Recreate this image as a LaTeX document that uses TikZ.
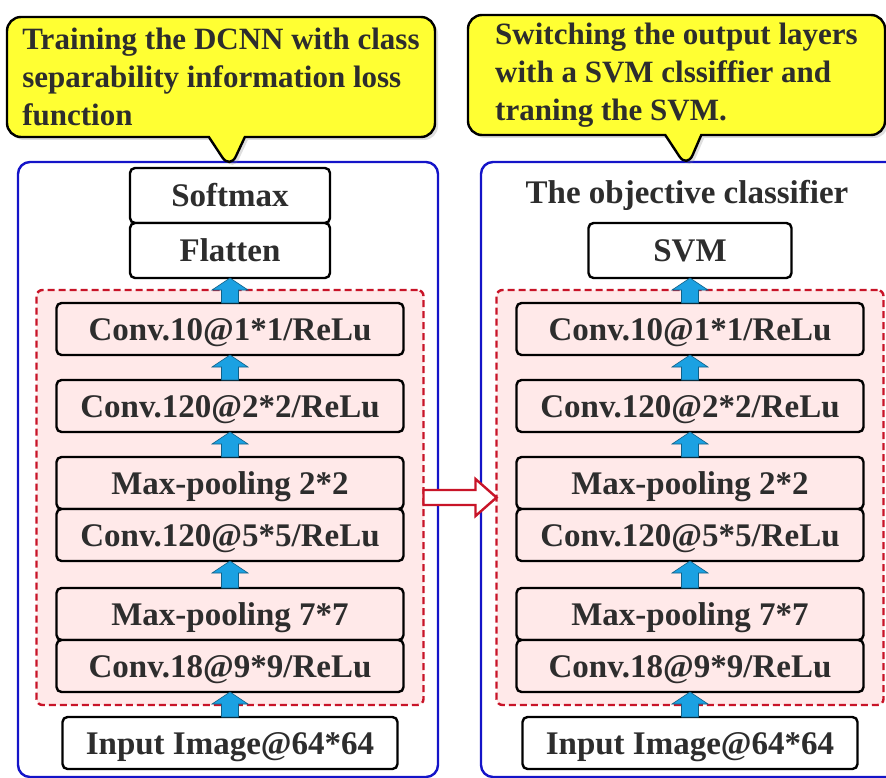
\documentclass[tikz,border=0pt]{standalone}
\usepackage{fontspec}
\setmainfont{Liberation Serif}
\usepackage{tikz}
\usetikzlibrary{positioning,calc,fit,shapes.callouts,shadows,backgrounds}
\definecolor{noteyellow}{RGB}{255, 255, 51}
\definecolor{layerpink}{RGB}{255, 233, 233}
\definecolor{regionred}{RGB}{200, 20, 40}
\definecolor{panelblue}{RGB}{20, 20, 200}
\definecolor{arrowblue}{RGB}{27, 161, 226}
\definecolor{textgray}{RGB}{45, 45, 45}
\newcommand{\layerfont}{\fontsize{33}{38}\selectfont\bfseries}
\newcommand{\notefont}{\fontsize{31}{38}\selectfont\bfseries}
\tikzset{
    box/.style={rectangle, draw=black, line width=2.4pt, rounded corners=5pt, inner sep=0pt, outer sep=0pt, minimum height=52pt, text height=22pt, text depth=0pt, font=\layerfont, text=textgray},
    plain box/.style={box, fill=white},
    layer/.style={box, fill=layerpink, minimum width=347pt},
    region/.style={rectangle, draw=regionred, line width=2.4pt, dash pattern=on 7pt off 4pt, fill=layerpink, rounded corners=6pt, inner xsep=20pt, inner ysep=13pt, outer sep=0pt},
    panel/.style={rectangle, draw=panelblue, line width=2.4pt, rounded corners=12pt, inner sep=0pt, outer sep=0pt},
    note/.style={rectangle callout, draw=black, line width=2.4pt, fill=noteyellow, rounded corners=14pt, callout pointer width=36pt, align=left, font=\notefont, text=textgray, inner xsep=14pt, outer sep=0pt, minimum height=120pt, drop shadow={shadow xshift=3pt, shadow yshift=-3pt, opacity=0.25}},
    up arrow/.style={fill=arrowblue, draw=arrowblue!60!black, line width=0.6pt},
    switch arrow/.style={draw=regionred, fill=white, line width=2.4pt}
}
\newcommand{\layerarrow}[2]{%
    \path[up arrow] let \p1=(#1.north), \p2=(#2.south) in
        (\x1-8.5pt,\y1) -- (\x1-8.5pt,\y2-12pt) -- (\x1-18pt,\y2-12pt) -- (\x1,\y2)
        -- (\x1+18pt,\y2-12pt) -- (\x1+8.5pt,\y2-12pt) -- (\x1+8.5pt,\y1) -- cycle;}

\begin{document}
\begin{tikzpicture}[x=1pt,y=-1pt]
\useasboundingbox (0,0) rectangle (886,778);

\node[panel, minimum width=420pt, minimum height=615pt] (lpanel) at (228,469.5) {};
\node[panel, minimum width=440pt, minimum height=615pt] (rpanel) at (701,469.5) {};
\coordinate (ltip) at (230,169);
\coordinate (rtip) at (687,168);

\node[note, minimum width=428pt, callout absolute pointer={(ltip)}] (lnote) at (221,77) {Training the DCNN with class\\separability information loss\\function};
\node[note, minimum width=417pt, callout absolute pointer={(rtip)}] (rnote) at (676.5,75) {Switching the output layers\\with a SVM clssiffier and\\traning the SVM.};

% DCNN training
\node[plain box, minimum width=200pt, minimum height=55pt] (lsoft) at (230,195.5) {Softmax};
\node[plain box, minimum width=200pt, minimum height=55pt, below=0pt of lsoft] (lflat) {Flatten};
\node[layer, below=25pt of lflat] (lc1) {Conv.10@1*1/ReLu};
\node[layer, below=25pt of lc1] (lc2) {Conv.120@2*2/ReLu};
\node[layer, below=25pt of lc2] (lp1) {Max-pooling 2*2};
\node[layer, below=0pt of lp1] (lc3) {Conv.120@5*5/ReLu};
\node[layer, below=27pt of lc3] (lp2) {Max-pooling 7*7};
\node[layer, below=0pt of lp2] (lc4) {Conv.18@9*9/ReLu};
\node[plain box, minimum width=335pt, below=25pt of lc4] (linput) {Input Image@64*64};

% SVM classifier
\node[font=\layerfont, text=textgray] (rtitle) at (687,195) {The objective classifier};
\node[plain box, minimum width=203pt, minimum height=55pt] (rsvm) at (690,250.5) {SVM};
\node[layer, below=25pt of rsvm] (rc1) {Conv.10@1*1/ReLu};
\node[layer, below=25pt of rc1] (rc2) {Conv.120@2*2/ReLu};
\node[layer, below=25pt of rc2] (rp1) {Max-pooling 2*2};
\node[layer, below=0pt of rp1] (rc3) {Conv.120@5*5/ReLu};
\node[layer, below=27pt of rc3] (rp2) {Max-pooling 7*7};
\node[layer, below=0pt of rp2] (rc4) {Conv.18@9*9/ReLu};
\node[plain box, minimum width=335pt, below=25pt of rc4] (rinput) {Input Image@64*64};

\begin{scope}[on background layer]
\node[region, fit=(lc1)(lc4)] (lregion) {};
\node[region, fit=(rc1)(rc4)] (rregion) {};
\end{scope}

\layerarrow{lc1}{lflat}
\layerarrow{lc2}{lc1}
\layerarrow{lp1}{lc2}
\layerarrow{lp2}{lc3}
\layerarrow{linput}{lc4}
\layerarrow{rc1}{rsvm}
\layerarrow{rc2}{rc1}
\layerarrow{rp1}{rc2}
\layerarrow{rp2}{rc3}
\layerarrow{rinput}{rc4}

\path[switch arrow] let \p1=(lregion.east), \p2=(rregion.west) in
    (\x1,\y1+7.5pt) -- (\x2-21pt,\y1+7.5pt) -- (\x2-21pt,\y1+18.5pt) -- (\x2,\y1)
    -- (\x2-21pt,\y1-18.5pt) -- (\x2-21pt,\y1-7.5pt) -- (\x1,\y1-7.5pt) -- cycle;
\end{tikzpicture}
\end{document}
